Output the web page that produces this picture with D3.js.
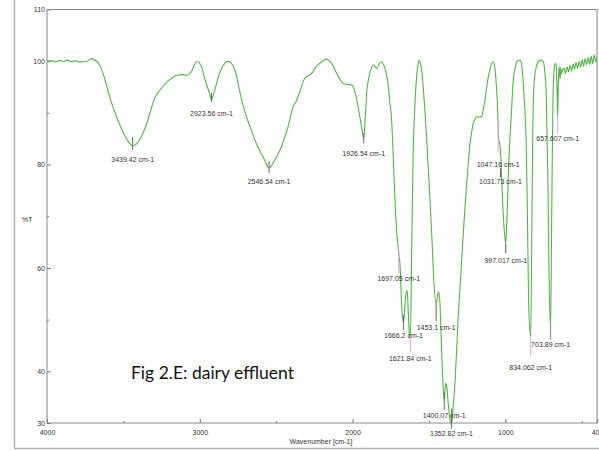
<!DOCTYPE html>
<html>
<head>
<meta charset="utf-8">
<script src="https://cdn.jsdelivr.net/npm/d3@7"></script>
<style>
  html, body { margin: 0; padding: 0; background: #fff; }
  svg { display: block; }
</style>
</head>
<body>
<svg id="chart" width="599" height="451"></svg>
<script>
// FT-IR transmittance spectrum: [wavenumber (cm-1), %T]
const spectrumPoints = [
  [4000, 100.0], [3970, 100.1], [3944, 99.9], [3918, 100.1], [3892, 100.0],
  [3866, 100.2], [3839, 99.9], [3813, 100.1], [3787, 99.8], [3761, 100.0],
  [3741, 99.9], [3722, 100.3], [3708, 100.5], [3689, 100.2], [3667, 99.8],
  [3650, 98.9], [3634, 97.7], [3612, 95.5], [3590, 93.1], [3563, 90.7],
  [3536, 88.6], [3508, 86.6], [3481, 85.1], [3459, 84.1], [3439.42, 83.6],
  [3418, 83.9], [3394, 84.8], [3372, 86.1], [3350, 87.7], [3323, 90.3],
  [3296, 92.8], [3269, 94.1], [3242, 95.1], [3203, 96.3], [3164, 97.1],
  [3125, 97.4], [3088, 97.3], [3070, 97.5], [3055, 98.0], [3038, 99.1],
  [3022, 99.9], [3010, 99.9], [3001, 99.6], [2985, 98.6], [2968, 96.7],
  [2950, 95.0], [2935, 93.7], [2923.56, 92.5], [2913, 93.3], [2902, 94.4],
  [2880, 96.8], [2858, 98.6], [2836, 99.6], [2815, 100.0], [2793, 99.6],
  [2771, 98.3], [2755, 96.6], [2739, 94.2], [2717, 91.5], [2695, 89.3],
  [2667, 87.0], [2640, 84.8], [2613, 83.0], [2586, 81.5], [2565, 80.2],
  [2546.54, 79.3], [2528, 79.9], [2509, 80.9], [2487, 82.1], [2465, 83.5],
  [2444, 85.3], [2422, 87.3], [2405, 89.4], [2389, 91.2], [2378, 91.8],
  [2367, 92.3], [2356, 93.2], [2345, 94.1], [2329, 95.6], [2313, 96.7],
  [2296, 97.1], [2280, 97.3], [2263, 97.8], [2247, 98.6], [2230, 99.2],
  [2214, 99.6], [2192, 100.1], [2170, 100.4], [2154, 100.1], [2138, 99.6],
  [2122, 98.8], [2105, 97.7], [2083, 96.5], [2062, 95.7], [2035, 95.5],
  [2007, 95.4], [1996, 95.1], [1985, 94.1], [1974, 92.8], [1963, 91.0],
  [1952, 89.2], [1941, 87.3], [1926.54, 85.1], [1919, 88.0], [1913, 90.8],
  [1908, 93.8], [1897, 96.3], [1887, 97.7], [1876, 98.7], [1865, 99.3],
  [1854, 99.0], [1843, 98.6], [1827, 99.4], [1810, 99.9], [1799, 99.4],
  [1788, 98.6], [1777, 97.3], [1767, 95.5], [1756, 92.0], [1745, 89.0],
  [1733, 81.0], [1720, 71.5], [1708, 65.8], [1701, 63.8], [1697.05, 62.5],
  [1690, 60.8], [1679, 53.2], [1672, 50.3], [1666.2, 49.5], [1660, 51.5],
  [1653, 54.4], [1647, 55.6], [1642, 55.5], [1636, 51.9], [1629, 47.5],
  [1621.84, 46.3], [1613, 63.5], [1608, 73.5], [1603, 82.8], [1595, 89.5],
  [1587, 94.4], [1578, 97.8], [1570, 99.6], [1564, 100.2], [1556, 99.6],
  [1548, 98.3], [1537, 94.8], [1526, 90.3], [1515, 85.0], [1505, 79.6],
  [1493, 73.0], [1482, 66.7], [1467, 57.0], [1453.1, 53.0], [1446, 54.0],
  [1439, 55.4], [1433, 54.8], [1428, 53.2], [1421, 47.4], [1413, 40.9],
  [1406, 36.5], [1400.07, 34.5], [1394, 36.5], [1389, 37.7], [1383, 37.0],
  [1376, 34.5], [1364, 31.0], [1352.82, 29.5], [1343, 32.5], [1330, 37.7],
  [1319, 44.0], [1308, 50.6], [1292, 58.5], [1275, 66.7], [1264, 71.8],
  [1253, 76.4], [1242, 80.5], [1231, 84.1], [1220, 86.3], [1210, 88.0],
  [1198, 88.8], [1187, 89.3], [1171, 89.2], [1155, 89.3], [1144, 90.7],
  [1133, 92.5], [1122, 95.0], [1111, 97.0], [1100, 98.5], [1089, 99.6],
  [1079, 99.9], [1068, 98.6], [1057, 94.4], [1050, 90.5], [1047.16, 87.5],
  [1043, 84.8], [1037, 84.0], [1031.73, 82.8], [1024, 77.0], [1013, 70.0],
  [1005, 66.5], [997.017, 64.8], [989, 70.0], [980, 78.3], [969, 85.5],
  [958, 91.2], [948, 96.4], [936, 98.6], [925, 99.9], [904, 100.2],
  [893, 99.3], [882, 95.7], [873, 91.0], [864, 84.8], [856, 71.9],
  [847, 52.5], [834.062, 46.7], [827, 65.4], [821, 84.8], [812, 95.7],
  [803, 98.0], [794, 99.3], [773, 100.2], [751, 99.9], [742, 98.0],
  [733, 94.4], [722, 78.3], [714, 59.0], [703.89, 48.6], [697, 68.0],
  [689, 91.2], [679, 98.9], [670, 99.6], [666, 98.5], [661, 94.0],
  [657.607, 89.3], [653, 95.5], [648, 99.0], [642, 96.5], [637, 98.8],
  [633, 97.5], [629, 98.0], [615, 98.6], [606, 97.6], [596, 98.9],
  [586, 97.9], [576, 99.2], [566, 98.1], [556, 99.5], [547, 98.4],
  [537, 99.8], [527, 98.6], [517, 100.0], [507, 98.9], [497, 100.3],
  [488, 99.0], [478, 100.5], [468, 99.3], [458, 100.7], [448, 99.4],
  [438, 101.0], [429, 99.5], [419, 101.2], [409, 99.8], [400, 101.0]
];

// Picked peaks (cm-1)
const peakWavenumbers = [
  3439.42, 2923.56, 2546.54, 1926.54, 1697.05, 1666.2, 1621.84, 1453.1,
  1400.07, 1352.82, 1047.16, 1031.73, 997.017, 834.062, 703.89, 657.607
];

const xTickValues = [4000, 3000, 2000, 1000, 400];
const xMinorTickValues = [3500, 2500, 1500, 500];
const yTickValues = [110, 100, 80, 60, 40, 30];
const yMinorTickValues = [90, 70, 50];

const titleText = "Fig 2.E: dairy effluent";
const xAxisTitle = "Wavenumber [cm-1]";
const yAxisTitle = "%T";

// Peak marker layout, pixels relative to the peak point:
// [marker top, marker bottom, label baseline, marker colour]
const markerLayout = [
  [-9, 4, 16, "#666"], [-7, 2, 16, "#666"], [-7, 5, 16, "#666"], [-5, 5, 18, "#666"],
  [-5, 18, 26, "#d9a6d9"], [-7, 8, 16, "#666"], [-2, 13, 22, "#d9a6d9"], [0, 17, 26, "#666"],
  [-7, 10, 18, "#666"], [-17, 3, 10, "#666"], [-4, 27, 41, "#d9a6d9"], [18, 27, 34, "#666"],
  [0, 10, 20, "#555"], [0, 20, 33, "#e0a6e0"], [-3, 13, 20, "#888"], [0, 17, 25, "#d9a6d9"]
];

const svg = d3.select("#chart");
const margin = { left: 47, right: 2, top: 9.5, bottom: 28 };
const W = 599, H = 451;
const plotBottom = H - margin.bottom;

const x = d3.scaleLinear().domain([4000, 400]).range([margin.left, W - margin.right]);
const y = d3.scaleLinear().domain([30, 110]).range([plotBottom, margin.top]);

const axisFont = "'Liberation Sans', Arial, sans-serif";
const textColor = "#333";

// outer page frame
svg.append("line").attr("x1", 14.5).attr("x2", 14.5).attr("y1", 0).attr("y2", 448.5)
  .attr("stroke", "#b4b4b4").attr("stroke-width", 1.5);
svg.append("line").attr("x1", 14).attr("x2", W).attr("y1", 448.5).attr("y2", 448.5)
  .attr("stroke", "#b4b4b4").attr("stroke-width", 1.5);

svg.append("defs").append("clipPath").attr("id", "plotClip")
  .append("rect")
  .attr("x", margin.left).attr("y", margin.top)
  .attr("width", W - margin.right - margin.left)
  .attr("height", plotBottom - margin.top);

// axes
function styleAxis(g) {
  g.select(".domain").remove();
  g.selectAll(".tick line").attr("stroke", "#777");
  g.selectAll(".tick text").attr("fill", textColor)
    .style("font-family", axisFont).style("font-size", "7px");
}

svg.append("g").attr("transform", `translate(0,${plotBottom})`)
  .call(d3.axisBottom(x).tickValues(xTickValues).tickSize(-4).tickPadding(7.5)
    .tickFormat(d3.format("d")))
  .call(styleAxis);
svg.append("g").attr("transform", `translate(0,${plotBottom})`)
  .call(d3.axisBottom(x).tickValues(xMinorTickValues).tickSize(-2).tickFormat(""))
  .call(styleAxis);

svg.append("g").attr("transform", `translate(${margin.left},0)`)
  .call(d3.axisLeft(y).tickValues(yTickValues).tickSize(-4).tickPadding(2)
    .tickFormat(d3.format("d")))
  .call(styleAxis);
svg.append("g").attr("transform", `translate(${margin.left},0)`)
  .call(d3.axisLeft(y).tickValues(yMinorTickValues).tickSize(-2).tickFormat(""))
  .call(styleAxis);

// plot frame
svg.append("rect")
  .attr("x", margin.left).attr("y", margin.top)
  .attr("width", W - margin.right - margin.left)
  .attr("height", plotBottom - margin.top)
  .attr("fill", "none").attr("stroke", "#8a8a8a").attr("stroke-width", 1);

// spectrum trace
const line = d3.line()
  .x(d => x(d[0]))
  .y(d => y(d[1]))
  .curve(d3.curveMonotoneX);

svg.append("path")
  .datum(spectrumPoints)
  .attr("clip-path", "url(#plotClip)")
  .attr("fill", "none")
  .attr("stroke", "#55b34a")
  .attr("stroke-width", 1.1)
  .attr("stroke-linejoin", "round")
  .attr("d", line);

// peak markers and labels
const peakPoints = peakWavenumbers.map(w => spectrumPoints.find(p => p[0] === w));
const peaks = svg.append("g");
peakPoints.forEach((p, i) => {
  const [top, bottom, labelDy, colour] = markerLayout[i];
  const px = x(p[0]), py = y(p[1]);
  peaks.append("line")
    .attr("x1", px).attr("x2", px)
    .attr("y1", py + top).attr("y2", py + bottom)
    .attr("stroke", colour).attr("stroke-width", 1);
  peaks.append("text")
    .attr("x", px).attr("y", py + labelDy)
    .attr("text-anchor", "middle")
    .attr("fill", textColor)
    .style("font-family", axisFont).style("font-size", "7px")
    .text(`${p[0]} cm-1`);
});

// axis titles
svg.append("text")
  .attr("x", 321).attr("y", 444)
  .attr("text-anchor", "middle").attr("fill", textColor)
  .style("font-family", axisFont).style("font-size", "7px")
  .text(xAxisTitle);
svg.append("text")
  .attr("x", 27).attr("y", 222)
  .attr("text-anchor", "middle").attr("fill", textColor)
  .style("font-family", axisFont).style("font-size", "7px")
  .text(yAxisTitle);

// figure caption
svg.append("text")
  .attr("x", 131).attr("y", 379)
  .attr("fill", "#111")
  .style("font-family", "Lato, 'Open Sans', sans-serif").style("font-size", "17.5px")
  .text(titleText);
</script>
</body>
</html>
